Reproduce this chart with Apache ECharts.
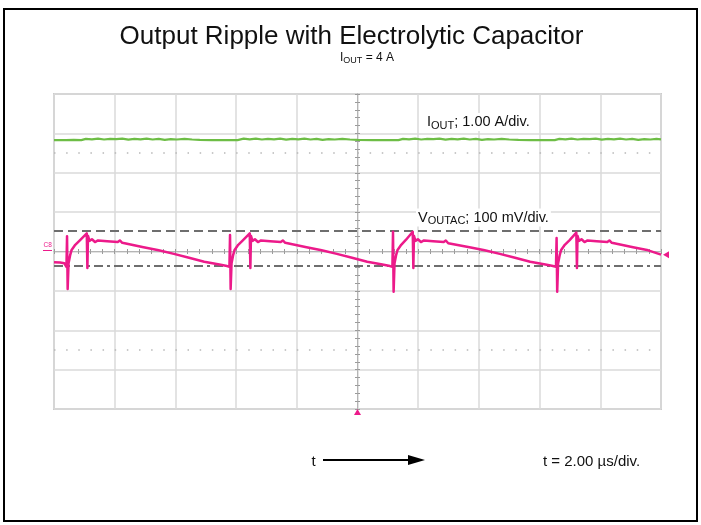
<!DOCTYPE html>
<html><head><meta charset="utf-8">
<script src="https://cdn.jsdelivr.net/npm/echarts@6/dist/echarts.min.js"></script>
<style>html,body{margin:0;padding:0;background:#fff}#c{width:701px;height:525px}</style>
</head><body><div id="c"></div>
<script>
// Time axis: µs (2 µs/div, trigger at centre). Vertical axis: scope divisions.
const timeRange = [-10, 10];
const timeStep = 2;
const divRange = [-4, 4];

// I_OUT trace (1.00 A/div), in divisions
const ioutT = [-10,-9.6,-9.35,-9.1,-8.95,-8.75,-8.55,-8.35,-8.15,-7.95,-7.75,-7.55,-7.35,-7.15,-6.95,-6.75,-6.55,-6.35,-6.15,-5.95,-5.7,-5.45,-5.2,
  -4.8,-4.4,-3.95,-3.75,-3.55,-3.35,-3.15,-2.95,-2.75,-2.55,-2.35,-2.15,-1.95,-1.75,-1.55,-1.35,-1.15,-0.95,-0.75,-0.5,-0.25,0.0,
  0.5,0.95,1.35,1.5,1.7,1.9,2.1,2.3,2.5,2.7,2.9,3.1,3.3,3.5,3.7,3.9,4.1,4.3,4.5,4.75,5.0,5.3,
  5.7,6.1,6.5,6.65,6.85,7.05,7.25,7.45,7.65,7.85,8.05,8.25,8.45,8.65,8.85,9.05,9.25,9.45,9.65,9.85,10.0];
const ioutDiv = [2.83,2.83,2.835,2.83,2.86,2.85,2.865,2.845,2.86,2.855,2.865,2.84,2.86,2.85,2.865,2.845,2.86,2.835,2.855,2.845,2.86,2.845,2.835,
  2.83,2.83,2.83,2.865,2.85,2.865,2.845,2.86,2.85,2.865,2.84,2.86,2.85,2.865,2.845,2.86,2.835,2.855,2.845,2.86,2.845,2.835,
  2.83,2.83,2.83,2.86,2.85,2.865,2.845,2.86,2.855,2.865,2.84,2.86,2.85,2.865,2.845,2.86,2.835,2.855,2.845,2.86,2.845,2.835,
  2.83,2.83,2.83,2.86,2.85,2.865,2.845,2.86,2.855,2.865,2.84,2.86,2.85,2.865,2.845,2.86,2.835,2.855,2.845,2.86,2.85];

// V_OUTAC trace (100 mV/div), in divisions
const voutT = [-10,-9.8,-9.66,-9.59,
  -9.57,-9.55,-9.52,-9.47,-9.42,-9.30,-9.14,-8.92,-8.90,-8.88,-8.83,-8.75,-8.65,-8.55,-8.25,-7.90,-7.83,-7.75,-7.05,-6.55,-6.05,-5.55,-5.05,-4.55,-4.30,-4.22,
  -4.20,-4.18,-4.15,-4.10,-4.05,-3.93,-3.77,-3.55,-3.53,-3.51,-3.46,-3.38,-3.28,-3.18,-2.88,-2.53,-2.46,-2.38,-1.68,-1.18,-0.68,-0.18,0.32,0.82,1.07,1.15,
  1.17,1.19,1.22,1.27,1.32,1.44,1.60,1.82,1.84,1.86,1.91,1.99,2.09,2.19,2.49,2.84,2.91,2.99,3.69,4.19,4.69,5.19,5.69,6.19,6.44,6.54,
  6.56,6.58,6.61,6.66,6.71,6.83,6.99,7.21,7.23,7.25,7.30,7.38,7.48,7.58,7.88,8.23,8.30,8.38,9.08,9.58,10.0];
const voutDiv = [-0.27,-0.28,-0.30,-0.39,
  0.39,-0.95,-0.30,-0.10,0.04,0.17,0.29,0.46,-0.42,0.40,0.27,0.31,0.24,0.28,0.26,0.24,0.28,0.22,0.11,0.03,-0.06,-0.16,-0.26,-0.33,-0.37,-0.39,
  0.42,-0.95,-0.30,-0.10,0.04,0.17,0.29,0.46,-0.42,0.40,0.27,0.31,0.24,0.28,0.26,0.24,0.28,0.22,0.11,0.03,-0.06,-0.16,-0.26,-0.33,-0.37,-0.39,
  0.50,-1.02,-0.30,-0.10,0.04,0.17,0.30,0.50,-0.42,0.40,0.27,0.31,0.24,0.28,0.26,0.24,0.28,0.21,0.11,0.03,-0.06,-0.16,-0.26,-0.33,-0.37,-0.39,
  0.34,-1.02,-0.30,-0.10,0.04,0.17,0.29,0.48,-0.42,0.40,0.27,0.31,0.24,0.28,0.26,0.24,0.28,0.22,0.11,0.03,-0.08];

// Cursors and reference levels (divisions)
const upperCursorDiv = 0.52;
const lowerCursorDiv = -0.37;
const dottedRowsDiv = [2.5, -2.5];
const triggerTime = 0;
const triggerLevelDiv = -0.08;

const F = '"Liberation Sans", Arial, Helvetica, sans-serif';
const GREEN = '#6dbd45';
const PINK = '#ec1a8a';
const zip = (a, b) => a.map((v, i) => [v, b[i]]);

const tickStyle = {color: '#9a9a9a', width: 1};
function xAx(extra) {
  return Object.assign({type: 'value', min: timeRange[0], max: timeRange[1], interval: timeStep,
    axisLabel: {show: false}, splitLine: {show: false}, axisTick: {show: false},
    axisLine: {show: false}}, extra);
}
function yAx(extra) {
  return Object.assign({type: 'value', min: divRange[0], max: divRange[1], interval: 1,
    axisLabel: {show: false}, splitLine: {show: false}, axisTick: {show: false},
    axisLine: {show: false}}, extra);
}
const centreLine = {show: true, onZero: true, onZeroAxisIndex: 0, lineStyle: {color: '#b5b5b5', width: 1}};
const cTick = {show: true, length: 2.5, lineStyle: tickStyle};
const cMinor = {show: true, splitNumber: 5, length: 2.5, lineStyle: tickStyle};

const chart = echarts.init(document.getElementById('c'), null, {renderer: 'canvas'});
const option = {
  animation: false,
  backgroundColor: '#fff',
  grid: {left: 54, top: 94, width: 607, height: 315, show: true, borderColor: '#cbcbcb', borderWidth: 2},
  xAxis: [
    xAx({splitLine: {show: true, lineStyle: {color: '#dadada', width: 1.5}}}),
    xAx({position: 'bottom', axisLine: centreLine, axisTick: cTick, minorTick: cMinor}),
    xAx({position: 'top', axisLine: centreLine, axisTick: cTick, minorTick: cMinor})
  ],
  yAxis: [
    yAx({splitLine: {show: true, lineStyle: {color: '#dadada', width: 1.5}}}),
    yAx({position: 'left', axisLine: centreLine, axisTick: cTick, minorTick: cMinor}),
    yAx({position: 'right', axisLine: centreLine, axisTick: cTick, minorTick: cMinor})
  ],
  series: [
    {
      name: 'IOUT', type: 'line', xAxisIndex: 0, yAxisIndex: 0, z: 3,
      data: zip(ioutT, ioutDiv), showSymbol: false, symbol: 'none',
      lineStyle: {color: GREEN, width: 2.2},
      markLine: {
        silent: true, symbol: 'none', label: {show: false},
        lineStyle: {color: '#b8b8b8', width: 1.5, type: [1.5, 10.64]},
        data: dottedRowsDiv.map(v => ({yAxis: v}))
      }
    },
    {
      name: 'VOUTAC', type: 'line', xAxisIndex: 0, yAxisIndex: 0, z: 4, clip: false,
      data: zip(voutT, voutDiv), showSymbol: false, symbol: 'none',
      lineStyle: {color: PINK, width: 2.5, join: 'round'},
      markLine: {
        silent: true, symbol: 'none', label: {show: false}, z: 3,
        data: [
          {yAxis: upperCursorDiv, lineStyle: {color: '#6e6e6e', width: 2, type: [9, 5]}},
          {yAxis: lowerCursorDiv, lineStyle: {color: '#6e6e6e', width: 2, type: [9, 4, 3, 4]}}
        ]
      },
      markPoint: {
        silent: true, label: {show: false}, itemStyle: {color: PINK},
        data: [
          {coord: [triggerTime, divRange[0]], symbol: 'triangle', symbolSize: [7, 6], symbolOffset: [0, 3]},
          {coord: [timeRange[1], triggerLevelDiv], symbol: 'triangle', symbolRotate: 90, symbolSize: [7, 6], symbolOffset: [5, 0]}
        ]
      }
    }
  ],
  graphic: [
    {type: 'rect', silent: true, z: 100, shape: {x: 4, y: 9, width: 693, height: 512},
      style: {fill: 'none', stroke: '#000', lineWidth: 2}},
    {type: 'text', x: 351.5, y: 37, z: 100, style: {text: 'Output Ripple with Electrolytic Capacitor',
      font: '26px ' + F, fill: '#111', align: 'center', verticalAlign: 'middle'}},
    {type: 'text', x: 367, y: 57.5, z: 100, style: {text: '{m|I}{s|OUT}{m| = 4 A}', align: 'center', verticalAlign: 'middle',
      rich: {m: {fontSize: 12, fontFamily: F, fill: '#111'}, s: {fontSize: 9, fontFamily: F, fill: '#111', padding: [6, 0, 0, 0]}}}},
    {type: 'text', x: 425, y: 122, z: 100, style: {text: '{m|I}{s|OUT}{m|; 1.00 A/div.}', align: 'left', verticalAlign: 'middle',
      backgroundColor: '#fff', padding: [0, 2, 0, 2],
      rich: {m: {fontSize: 14.5, fontFamily: F, fill: '#111'}, s: {fontSize: 11, fontFamily: F, fill: '#111', padding: [7, 0, 0, 0]}}}},
    {type: 'text', x: 416, y: 217.5, z: 100, style: {text: '{m|V}{s|OUTAC}{m|; 100 mV/div.}', align: 'left', verticalAlign: 'middle',
      backgroundColor: '#fff', padding: [0, 2, 0, 2],
      rich: {m: {fontSize: 14.5, fontFamily: F, fill: '#111'}, s: {fontSize: 11, fontFamily: F, fill: '#111', padding: [7, 0, 0, 0]}}}},
    {type: 'text', x: 43.5, y: 245, z: 100, style: {text: 'C8', font: '6.5px ' + F, fill: PINK, align: 'left', verticalAlign: 'middle'}},
    {type: 'line', z: 100, shape: {x1: 43, y1: 250.5, x2: 52, y2: 250.5}, style: {stroke: PINK, lineWidth: 1}},
    {type: 'text', x: 313.5, y: 462, z: 100, style: {text: 't', font: '15px ' + F, fill: '#111', align: 'center', verticalAlign: 'middle'}},
    {type: 'line', z: 100, shape: {x1: 323, y1: 460, x2: 410, y2: 460}, style: {stroke: '#000', lineWidth: 2}},
    {type: 'polygon', z: 100, shape: {points: [[408, 455], [425, 460], [408, 465]]}, style: {fill: '#000'}},
    {type: 'text', x: 543, y: 462, z: 100, style: {text: 't = 2.00 µs/div.', font: '15px ' + F, fill: '#111', align: 'left', verticalAlign: 'middle'}}
  ]
};
chart.setOption(option);
</script>
</body></html>
